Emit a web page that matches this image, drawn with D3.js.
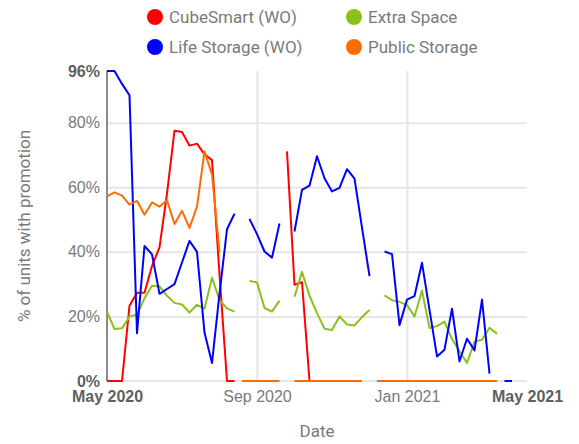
<!DOCTYPE html>
<html>
<head>
<meta charset="utf-8">
<script src="https://cdn.jsdelivr.net/npm/d3@7"></script>
<style>
  body { margin: 0; background: #fff; }
  svg { font-family: Roboto, "Noto Sans", sans-serif; }
</style>
</head>
<body>
<div id="chart-area"></div>
<script>
// x positions are sample indexes (one sample roughly every 6 days)
const tickIdx = [0, 20, 40, 56];
const tickLabels = ["May 2020", "Sep 2020", "Jan 2021", "May 2021"];
const yTicks = [0, 20, 40, 60, 80, 96];

const seriesNames = ["CubeSmart (WO)", "Extra Space", "Life Storage (WO)", "Public Storage"];

const cubeSmart = [0, 0, 0, 23.3, 27.3, 27.3, 35.6, 41.4, 58, 77.5, 77.1, 72.9, 73.5, 70.2, 68.4,
  33, 0, 0, null, null, null, null, null, null, 71.1, 29.8, 30.6, 0, 0, 0, 0, 0, 0, 0, 0, null,
  0, 0, 0, 0, 0, 0, 0, 0, 0, 0, 0, 0, 0, 0, null, null, null, null, null];

const extraSpace = [21.5, 16.1, 16.3, 20, 20.5, 25.6, 29.5, 29.3, 26.4, 24.2, 23.7, 21.2, 23.6, 22.4, 32,
  25, 22.5, 21.5, null, 31, 30.5, 22.6, 21.5, 24.9, null, 26.1, 33.8, 26.4, 21, 16.2, 15.8, 20, 17.5, 17.2, 19.8, 22,
  null, 26.5, 25, 24.5, 23.5, 20, 28, 16.4, 17, 18.4, 13, 9.2, 5.6, 12.2, 12.8, 16.5, 14.6, null, null];

const lifeStorage = [96, 96, 92, 88.5, 14.8, 41.8, 39.2, 27, 28.5, 30, 36.7, 43.4, 40, 15, 5.6,
  27, 47, 51.8, null, 50.2, 45.5, 40.1, 38.2, 48.8, null, 46.3, 59.2, 60.5, 69.6, 62.8, 58.7, 59.8, 65.6, 62.7, 47.5, 32.5,
  null, 40.1, 39.3, 17.3, 25.2, 26.3, 36.6, 22, 7.6, 9.7, 22.4, 6.1, 13.1, 9.5, 25.2, 2.3, null, 0, 0];

const publicStorage = [57.2, 58.4, 57.4, 54.6, 55.8, 51.5, 55.3, 54, 56, 48.6, 52.7, 47.4, 54, 71.1, 64,
  40, null, null, 0, 0, 0, 0, 0, 0, null, 0, 0, 0, 0, 0, 0, 0, 0, 0, 0, null,
  0, 0, 0, 0, 0, 0, 0, 0, 0, 0, 0, 0, 0, 0, 0, 0, 0, null, null];

const colors = ["#ff0000", "#8ac11b", "#0000ff", "#ff6d00"];

const width = 579;
const height = 444;
const plot = { left: 107, right: 527, top: 71, bottom: 381 };

const svg = d3.select("#chart-area")
  .append("svg")
  .attr("width", width)
  .attr("height", height);

// escalas
const x = d3.scaleLinear()
  .domain([0, 56])
  .range([plot.left, plot.right]);

const y = d3.scaleLinear()
  .domain([0, 96])
  .range([plot.bottom, plot.top]);

// grid horizontal + etiquetas del eje Y
const leftAxis = d3.axisLeft(y)
  .tickValues(yTicks)
  .tickFormat(d => d + "%")
  .tickSize(-(plot.right - plot.left))
  .tickPadding(7);

const gy = svg.append("g")
  .attr("transform", `translate(${plot.left}, 0)`)
  .call(leftAxis);
gy.select(".domain").remove();
gy.selectAll("line")
  .attr("stroke", d => (d === 0 || d === 96) ? "none" : "#e6e6e6")
  .attr("stroke-width", 2);
gy.selectAll("text")
  .attr("font-size", "16px")
  .attr("fill", d => (d === 0 || d === 96) ? "#5f5f5f" : "#7a7a7a")
  .attr("font-weight", d => (d === 0 || d === 96) ? "bold" : "normal");

// grid vertical + etiquetas del eje X
const bottomAxis = d3.axisBottom(x)
  .tickValues(tickIdx)
  .tickFormat((d, i) => tickLabels[i])
  .tickSize(-(plot.bottom - plot.top))
  .tickPadding(10);

const gx = svg.append("g")
  .attr("transform", `translate(0, ${plot.bottom})`)
  .call(bottomAxis);
gx.select(".domain").remove();
gx.selectAll("line")
  .attr("stroke", (d, i) => (i === 0 || i === tickIdx.length - 1) ? "none" : "#e6e6e6")
  .attr("stroke-width", 2);
gx.selectAll("text")
  .attr("font-size", "16px")
  .attr("fill", (d, i) => (i === 0 || i === tickIdx.length - 1) ? "#5f5f5f" : "#7a7a7a")
  .attr("font-weight", (d, i) => (i === 0 || i === tickIdx.length - 1) ? "bold" : "normal");

// linea base y eje izquierdo
svg.append("line")
  .attr("x1", plot.left).attr("x2", plot.right)
  .attr("y1", y(0)).attr("y2", y(0))
  .attr("stroke", "#e6e6e6")
  .attr("stroke-width", 2);
svg.append("line")
  .attr("x1", plot.left).attr("x2", plot.left)
  .attr("y1", plot.top).attr("y2", plot.bottom)
  .attr("stroke", "#8a8a8a")
  .attr("stroke-width", 2);

// lineas
const line = d3.line()
  .defined(d => d !== null)
  .x((d, i) => x(i))
  .y(d => y(d));

const series = [cubeSmart, extraSpace, lifeStorage, publicStorage];
svg.selectAll("path.series")
  .data(series)
  .enter()
  .append("path")
  .attr("class", "series")
  .attr("fill", "none")
  .attr("stroke", (d, i) => colors[i])
  .attr("stroke-width", 2)
  .attr("stroke-linejoin", "round")
  .attr("d", d => line(d));

// titulos de ejes
svg.append("text")
  .attr("x", (plot.left + plot.right) / 2)
  .attr("y", 437)
  .attr("font-size", "17px")
  .attr("text-anchor", "middle")
  .attr("fill", "#7a7a7a")
  .text("Date");

svg.append("text")
  .attr("transform", "rotate(-90)")
  .attr("x", -(plot.top + plot.bottom) / 2)
  .attr("y", 30)
  .attr("font-size", "17px")
  .attr("text-anchor", "middle")
  .attr("fill", "#7a7a7a")
  .text("% of units with promotion");

// leyenda
const legendPos = [[155, 17], [354, 17], [155, 47], [354, 47]];
const legend = svg.selectAll("g.legend")
  .data(seriesNames)
  .enter()
  .append("g")
  .attr("class", "legend")
  .attr("transform", (d, i) => `translate(${legendPos[i][0]}, ${legendPos[i][1]})`);
legend.append("circle")
  .attr("r", 8)
  .attr("fill", (d, i) => colors[i]);
legend.append("text")
  .attr("x", 14)
  .attr("dy", "0.35em")
  .attr("font-size", "17px")
  .attr("fill", "#7a7a7a")
  .text(d => d);
</script>
</body>
</html>
